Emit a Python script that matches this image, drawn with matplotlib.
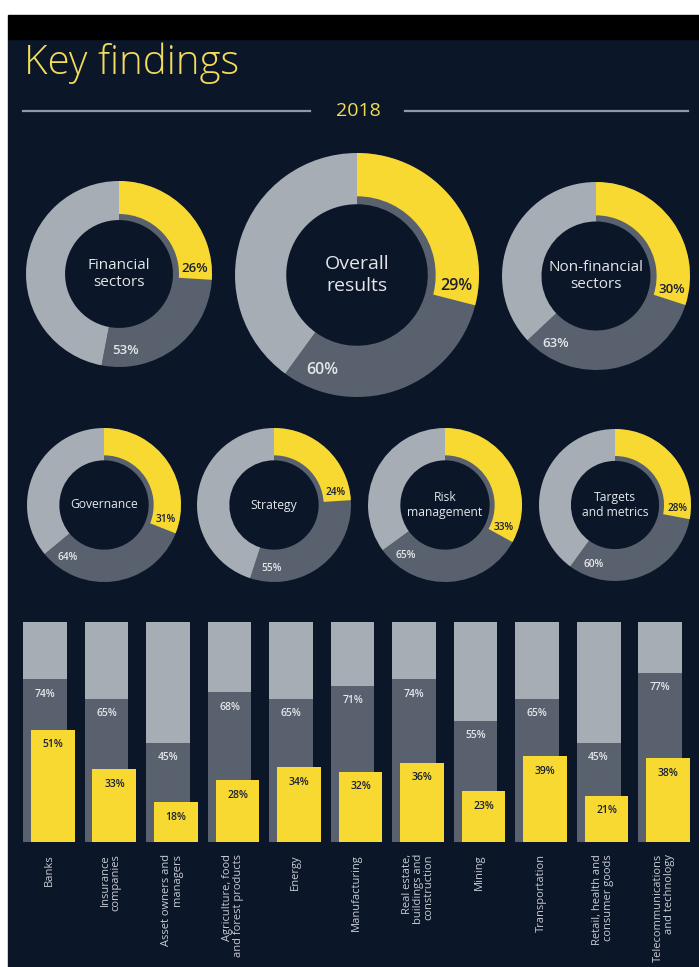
import numpy as np
import matplotlib
matplotlib.use('Agg')
import matplotlib.pyplot as plt
from matplotlib.patches import Rectangle
from matplotlib.lines import Line2D

plt.rcParams['font.family'] = ['Open Sans', 'DejaVu Sans']

# colours
BG = '#0b1628'
YELLOW = '#f8d932'
DARK = '#58616d'
LIGHT = '#a6adb4'
TXT = '#e4e7ea'
NAVY_TXT = '#1a2030'

# donut data (yellow share, dark grey share)
donut_names = ['Financial\nsectors', 'Overall\nresults', 'Non-financial\nsectors',
               'Governance', 'Strategy', 'Risk\nmanagement', 'Targets\nand metrics']
donut_yellow = [26, 29, 30, 31, 24, 33, 28]
donut_dark = [53, 60, 63, 64, 55, 65, 60]

# sector bars
sectors = ['Banks', 'Insurance\ncompanies', 'Asset owners and\nmanagers',
           'Agriculture, food\nand forest products', 'Energy', 'Manufacturing',
           'Real estate,\nbuildings and\nconstruction', 'Mining', 'Transportation',
           'Retail, health and\nconsumer goods', 'Telecommunications\nand technology']
sector_dark = [74, 65, 45, 68, 65, 71, 74, 55, 65, 45, 77]
sector_yellow = [51, 33, 18, 28, 34, 32, 36, 23, 39, 21, 38]

# layout in pixels: centre x, centre y, radius, name size, pct size
W, H = 699, 967
donut_layout = [
    (119, 274, 93, 11, 9.5),
    (357, 275, 122, 14, 11.5),
    (596, 276, 94, 11, 9.5),
    (104, 505, 77, 8.7, 7.3),
    (274, 505, 77, 8.7, 7.3),
    (445, 505, 77, 8.7, 7.3),
    (615, 505, 76, 8.7, 7.3),
]


def px_box(x0, y0, w, h):
    # pixel box (top-left origin) -> figure fraction
    return [x0 / W, 1 - (y0 + h) / H, w / W, h / H]


def draw_donut(fig, name, yv, dv, cx, cy, r, fs_name, fs_pct):
    ax = fig.add_axes(px_box(cx - r, cy - r, 2 * r, 2 * r))
    ax.pie([dv, 100 - dv], radius=1, startangle=90, counterclock=False,
           colors=[DARK, LIGHT], wedgeprops=dict(width=0.42, edgecolor='none'))
    ax.pie([yv, 100 - yv], radius=1, startangle=90, counterclock=False,
           colors=[YELLOW, 'none'], wedgeprops=dict(width=0.355, edgecolor='none'))
    ax.set_xlim(-1, 1)
    ax.set_ylim(-1, 1)
    ax.axis('off')
    ax.text(0, 0, name, ha='center', va='center', color=TXT,
            fontsize=fs_name, linespacing=1.25)
    a = np.radians(yv * 3.6 - 8)
    ax.text(0.82 * np.sin(a), 0.82 * np.cos(a), f'{yv}%', ha='center', va='center',
            color=NAVY_TXT, fontsize=fs_pct, fontweight='semibold')
    a = np.radians(dv * 3.6 - 16)
    ax.text(0.83 * np.sin(a), 0.83 * np.cos(a), f'{dv}%', ha='center', va='center',
            color=TXT, fontsize=fs_pct, fontweight='semibold')


def main():
    fig = plt.figure(figsize=(W / 100, H / 100), dpi=100, facecolor='white')

    # background panels
    fig.add_artist(Rectangle((8 / W, 0), 1 - 8 / W, 1 - 39 / H,
                             transform=fig.transFigure, color=BG, zorder=-10))
    fig.add_artist(Rectangle((8 / W, 1 - 39 / H), 1 - 8 / W, 24 / H,
                             transform=fig.transFigure, color='black', zorder=-10))

    # title and year rule
    fig.text(24 / W, 1 - 63 / H, 'Key findings', ha='left', va='center',
             fontsize=29, color='#f2dc5a', fontweight='light')
    fig.text(358 / W, 1 - 111 / H, '2018', ha='center', va='center',
             fontsize=14, color='#f2dc5a')
    for x0, x1 in [(23, 310), (405, 688)]:
        fig.add_artist(Line2D([x0 / W, x1 / W], [1 - 111 / H] * 2,
                              color='#8d9aa8', linewidth=1.6))

    for name, yv, dv, lay in zip(donut_names, donut_yellow, donut_dark, donut_layout):
        draw_donut(fig, name, yv, dv, *lay)

    # sector bars
    ax = fig.add_axes(px_box(23, 622, 667, 220))
    x = np.arange(len(sectors))
    bw = 0.715
    shift = 0.13
    ax.bar(x, [100] * len(x), width=bw, color=LIGHT, linewidth=0)
    ax.bar(x, sector_dark, width=bw, color=DARK, linewidth=0)
    ax.bar(x + shift, sector_yellow, width=bw, color=YELLOW, linewidth=0)
    ax.set_xlim(-bw / 2, len(x) - 1 + shift + bw / 2)
    ax.set_ylim(0, 100)
    ax.axis('off')

    for i in x:
        ax.annotate(f'{sector_dark[i]}%', (i, sector_dark[i]), xytext=(0, -15),
                    textcoords='offset pixels', ha='center', va='center',
                    color=TXT, fontsize=7.5, fontweight='semibold')
        ax.annotate(f'{sector_yellow[i]}%', (i + shift, sector_yellow[i]), xytext=(0, -15),
                    textcoords='offset pixels', ha='center', va='center',
                    color=NAVY_TXT, fontsize=7.5, fontweight='semibold')
        ax.annotate(sectors[i], (i + shift / 2, 0), xytext=(0, -12),
                    textcoords='offset pixels', ha='center', va='top',
                    rotation=90, multialignment='right', color='#c9cdd3',
                    fontsize=8, linespacing=1.0, annotation_clip=False)

    fig.savefig('out.png', dpi=100, facecolor=fig.get_facecolor())
    plt.close(fig)


if __name__ == '__main__':
    main()
